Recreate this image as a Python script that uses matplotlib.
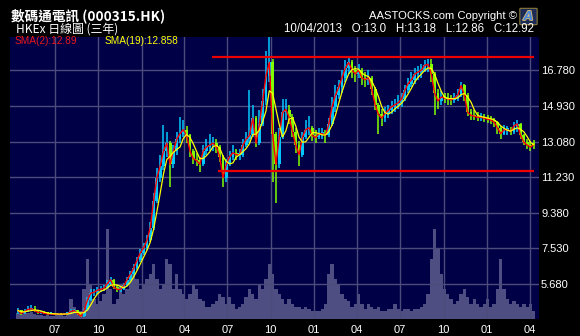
import numpy as np
import pandas as pd
import matplotlib
matplotlib.use("Agg")
import matplotlib.pyplot as plt
import matplotlib.dates as mdates
from matplotlib.patches import FancyBboxPatch
import matplotlib.patheffects as pe

# ---------------- data (weekly) ----------------
dates = pd.date_range("2010-04-14", "2013-04-10", freq="7D")

close = [4.30, 4.15, 4.25, 4.35, 4.40, 4.30, 4.20, 4.20, 4.15, 4.12, 4.12, 4.10, 4.12, 4.10, 4.12, 4.12,
         4.25, 4.30, 4.15, 4.00, 4.30, 4.85, 5.20, 5.25, 5.35, 5.40, 5.45, 5.70, 5.90, 5.50, 5.40, 5.40,
         5.60, 5.90, 6.20, 6.50, 6.90, 7.30, 7.55, 7.95, 8.60, 10.00, 11.20, 11.80, 12.60, 13.00, 11.90, 12.60,
         13.20, 13.50, 13.70, 13.40, 12.60, 12.20, 12.10, 11.90, 12.60, 12.80, 12.90, 13.00, 12.80, 12.30, 11.20, 11.90,
         12.30, 12.50, 12.40, 12.40, 12.90, 13.20, 13.40, 14.30, 13.00, 14.00, 15.20, 16.50, 17.20, 13.50, 11.90, 13.30,
         14.60, 14.75, 14.35, 13.60, 12.90, 12.40, 13.30, 13.70, 13.80, 13.40, 13.30, 13.50, 13.50, 13.40, 14.00, 14.90,
         15.50, 15.90, 16.40, 16.90, 17.20, 16.80, 16.60, 16.80, 16.40, 16.30, 16.40, 15.80, 15.00, 14.50, 14.30, 14.55,
         14.70, 14.90, 15.00, 15.10, 15.30, 15.75, 16.10, 16.30, 16.60, 16.70, 16.80, 17.05, 17.10, 16.60, 15.60, 15.20,
         15.40, 15.35, 15.30, 15.25, 15.35, 15.50, 16.00, 15.50, 14.60, 14.45, 14.40, 14.35, 14.35, 14.30, 14.25, 14.20,
         14.10, 13.80, 13.50, 13.70, 13.70, 13.60, 13.90, 14.00, 13.40, 13.05, 12.90, 12.80, 12.92]

open_ = [4.20, 4.30, 4.15, 4.25, 4.35, 4.40, 4.30, 4.20, 4.20, 4.15, 4.12, 4.12, 4.10, 4.12, 4.10, 4.12,
         4.12, 4.25, 4.30, 4.15, 4.00, 4.30, 4.85, 5.20, 5.25, 5.35, 5.40, 5.45, 5.70, 5.90, 5.50, 5.40,
         5.40, 5.60, 5.90, 6.20, 6.50, 6.90, 7.30, 7.55, 7.95, 8.60, 10.00, 11.20, 11.80, 12.60, 13.00, 11.90,
         12.60, 13.20, 13.50, 13.70, 13.40, 12.60, 12.20, 12.10, 11.90, 12.60, 12.80, 12.90, 13.00, 12.80, 12.30, 11.20,
         11.90, 12.30, 12.50, 12.40, 12.40, 12.90, 13.20, 13.40, 14.30, 13.00, 14.00, 15.20, 16.50, 17.20, 13.50, 11.90,
         13.30, 14.60, 14.75, 14.35, 13.60, 12.90, 12.40, 13.30, 13.70, 13.80, 13.40, 13.30, 13.50, 13.50, 13.40, 14.00,
         14.90, 15.50, 15.90, 16.40, 16.90, 17.20, 16.80, 16.60, 16.80, 16.40, 16.30, 16.40, 15.80, 15.00, 14.50, 14.30,
         14.55, 14.70, 14.90, 15.00, 15.10, 15.30, 15.75, 16.10, 16.30, 16.60, 16.70, 16.80, 17.05, 17.10, 16.60, 15.60,
         15.20, 15.40, 15.35, 15.30, 15.25, 15.35, 15.50, 16.00, 15.50, 14.60, 14.45, 14.40, 14.35, 14.35, 14.30, 14.25,
         14.20, 14.10, 13.80, 13.50, 13.70, 13.70, 13.60, 13.90, 14.00, 13.40, 13.05, 12.90, 13.00]

high = [4.45, 4.35, 4.40, 4.55, 4.60, 4.55, 4.35, 4.28, 4.25, 4.20, 4.18, 4.16, 4.17, 4.16, 4.18, 4.20,
        4.40, 4.38, 4.32, 4.18, 4.45, 5.00, 5.40, 5.40, 5.50, 5.55, 5.65, 5.90, 6.05, 5.95, 5.60, 5.55,
        5.75, 6.05, 6.35, 6.70, 7.10, 7.50, 7.80, 8.20, 8.90, 10.40, 11.70, 12.40, 13.95, 13.60, 13.10, 12.90,
        13.60, 14.35, 14.20, 13.90, 13.50, 12.70, 12.50, 12.30, 12.90, 13.20, 13.50, 13.30, 13.20, 12.90, 12.40, 12.20,
        12.60, 12.90, 12.70, 12.70, 13.20, 13.60, 15.75, 15.00, 14.40, 14.70, 15.80, 17.80, 18.50, 17.40, 13.60, 13.80,
        15.30, 15.30, 15.00, 14.50, 13.80, 13.10, 13.60, 14.20, 14.40, 13.90, 13.70, 13.80, 13.80, 13.70, 14.30, 15.40,
        16.00, 16.30, 16.80, 17.30, 17.50, 17.30, 17.00, 17.10, 16.90, 16.70, 16.80, 16.50, 15.90, 15.10, 14.80, 14.90,
        15.00, 15.20, 15.30, 15.50, 15.60, 16.00, 16.40, 16.70, 16.90, 17.00, 17.10, 17.30, 17.40, 17.40, 16.70, 15.80,
        15.70, 15.60, 15.60, 15.50, 15.60, 15.80, 16.20, 16.10, 15.60, 14.80, 14.70, 14.60, 14.55, 14.50, 14.45, 14.40,
        14.30, 14.15, 13.90, 13.95, 13.90, 13.85, 14.10, 14.20, 14.05, 13.50, 13.20, 13.10, 13.18]

low = [4.12, 4.05, 4.10, 4.20, 4.28, 4.22, 4.12, 4.12, 4.10, 4.08, 4.08, 4.06, 4.07, 4.06, 4.07, 4.08,
       4.10, 4.18, 4.08, 3.95, 3.98, 4.25, 4.80, 5.05, 5.15, 5.25, 5.30, 5.40, 5.65, 5.40, 5.28, 5.25,
       5.35, 5.55, 5.85, 6.10, 6.40, 6.80, 7.20, 7.45, 7.85, 8.50, 9.90, 11.00, 11.60, 12.30, 10.70, 11.70,
       12.40, 13.00, 13.30, 13.00, 12.30, 11.90, 11.80, 11.50, 11.80, 12.40, 12.60, 12.60, 12.50, 12.00, 10.70, 11.00,
       11.80, 12.10, 12.10, 12.10, 12.30, 12.80, 13.00, 13.30, 12.80, 12.90, 13.90, 15.00, 16.20, 11.00, 9.90, 11.70,
       13.20, 14.20, 14.00, 13.30, 12.50, 11.80, 12.30, 13.20, 13.40, 13.10, 13.00, 13.20, 13.20, 13.00, 13.30, 13.90,
       14.60, 15.30, 15.60, 16.20, 16.60, 16.40, 16.20, 16.40, 16.00, 15.90, 16.00, 15.50, 14.70, 13.50, 13.90, 14.10,
       14.30, 14.50, 14.60, 14.80, 14.90, 15.20, 15.60, 15.90, 16.10, 16.30, 16.40, 16.70, 16.70, 16.20, 14.45, 14.80,
       15.00, 15.10, 15.00, 15.00, 15.10, 15.20, 15.40, 15.20, 14.40, 14.20, 14.20, 14.15, 14.15, 14.10, 14.05, 14.00,
       13.85, 13.50, 13.20, 13.40, 13.45, 13.40, 13.50, 13.60, 13.20, 12.90, 12.70, 12.60, 12.70]

volume = [0.6, 0.5, 0.8, 0.6, 0.7, 0.5, 0.4, 0.4, 0.3, 0.4, 0.3, 0.3, 0.4, 0.4, 0.3, 0.4,
          2.0, 1.2, 0.6, 0.8, 3.0, 6.0, 3.5, 2.0, 1.5, 1.8, 2.5, 9.0, 3.0, 1.5, 2.0, 3.5, 2.5, 3.0, 4.0, 5.0, 4.0, 3.0, 3.5, 4.0,
          4.5, 5.5, 4.0, 3.0, 3.5, 6.0, 5.5, 3.0, 4.5, 3.0, 2.5, 2.0, 2.5, 3.5, 3.0, 2.0, 1.8, 1.2, 1.2, 1.5, 1.8, 2.5, 2.2, 1.5,
          2.2, 1.5, 1.0, 1.2, 1.5, 2.2, 3.0, 2.5, 2.0, 3.5, 3.0, 4.0, 5.5, 4.5, 3.0, 2.5, 2.0, 1.5, 2.0, 1.5, 1.2, 1.2, 1.0, 1.2,
          1.0, 0.8, 0.8, 0.8, 1.0, 1.5, 4.5, 5.5, 4.0, 3.5, 2.5, 2.0, 1.8, 1.2, 1.5, 2.5, 1.5, 1.0, 1.5, 1.2, 1.0, 1.2, 0.8, 0.8,
          1.0, 1.0, 1.5, 1.0, 0.8, 1.0, 1.0, 0.8, 1.0, 1.0, 1.2, 1.5, 2.5, 6.0, 9.0, 7.0, 4.5, 3.0, 2.5, 2.0, 1.5, 1.8, 2.5, 3.0,
          2.2, 1.5, 2.0, 1.5, 1.2, 1.5, 2.0, 1.2, 1.5, 3.0, 6.0, 3.0, 2.0, 1.5, 1.8, 1.5, 1.2, 1.5, 1.2, 1.5, 0.8]

price_ticks = [5.68, 7.53, 9.38, 11.23, 13.08, 14.93, 16.78]
date_ticks = ["2010-07-01", "2010-10-01", "2011-01-01", "2011-04-01", "2011-07-01", "2011-10-01",
              "2012-01-01", "2012-04-01", "2012-07-01", "2012-10-01", "2013-01-01", "2013-04-01"]
line_levels = [17.46, 11.56]
line_starts = ["2011-05-30", "2011-06-12"]
line_end = "2013-04-10"

title_cn = "數碼通電訊 (000315.HK)"
subtitle = "HKEx 日線圖 (三年)"
copyright_txt = "AASTOCKS.com Copyright ©"
quote_txt = "10/04/2013   O:13.0   H:13.18   L:12.86   C:12.92"
sma2_txt = "SMA(2):12.89"
sma19_txt = "SMA(19):12.858"

# ---------------- styling ----------------
BG = "#000000"
PANEL = "#000046"
GRID = "#4b4b7c"
VOLC = "#4e4e82"
UP = "#00C8FF"
DOWN = "#80FF00"
RED = "#FF0000"
YEL = "#FFFF00"

W, H = 580, 336
fig = plt.figure(figsize=(W / 100, H / 100), dpi=100, facecolor=BG)

L, R, T, B = 9.5, 539, 37, 319
pos = [L / W, 1 - B / H, (R - L) / W, (B - T) / H]

xmin = pd.Timestamp("2010-03-27")
xmax = pd.Timestamp("2013-04-21")

# volume axes (underneath)
axv = fig.add_axes(pos, facecolor=PANEL, zorder=1)
axv.bar(dates, volume, width=7.0, color=VOLC, linewidth=0)
axv.set_ylim(0, 28.2)
axv.set_xlim(xmin, xmax)
axv.set_xticks([]); axv.set_yticks([])
for s in axv.spines.values():
    s.set_visible(False)

# price axes (on top)
ax = fig.add_axes(pos, zorder=2)
ax.patch.set_alpha(0)
ax.set_xlim(xmin, xmax)
ax.set_ylim(3.857, 18.522)

o = np.array(open_); c = np.array(close); h = np.array(high); lo = np.array(low)
up = c >= o
cols = np.where(up, UP, DOWN)
ax.vlines(dates, lo, h, colors=cols, linewidth=1.1, zorder=3)
body_bot = np.minimum(o, c)
body_h = np.maximum(np.abs(c - o), 0.08)
ax.bar(dates, body_h, bottom=body_bot, width=6.0, color=cols, linewidth=0, zorder=3)

cs = pd.Series(close, index=dates)
ax.plot(dates, cs.values, color=RED, linewidth=1.0, zorder=4)
sma19 = cs.rolling(4, min_periods=1).mean()
ax.plot(dates, sma19.values, color=YEL, linewidth=0.9, zorder=5)

for lvl, st in zip(line_levels, line_starts):
    ax.plot([pd.Timestamp(st), pd.Timestamp(line_end)], [lvl, lvl], color="#EE0000",
            linewidth=1.6, zorder=6, solid_capstyle="butt")

ax.set_yticks(price_ticks)
ax.set_yticklabels([f"{v:.3f}" for v in price_ticks])
ax.yaxis.tick_right()
ax.set_xticks([pd.Timestamp(d) for d in date_ticks])
ax.xaxis.set_major_formatter(mdates.DateFormatter("%m"))
ax.tick_params(axis="both", length=0, colors="white", labelsize=8)
ax.tick_params(axis="y", pad=1.5)
ax.tick_params(axis="x", pad=4)
for lab in ax.get_xticklabels() + ax.get_yticklabels():
    lab.set_fontfamily("Liberation Sans")
ax.grid(True, color=GRID, linewidth=1.0, zorder=0)
ax.set_axisbelow(True)
for s in ax.spines.values():
    s.set_visible(False)

# ---------------- texts ----------------
def ftext(x, y, s, **kw):
    fig.text(x / W, 1 - y / H, s, va="center", **kw)

ftext(11, 15.5, title_cn, color="white", fontsize=9.8, fontweight="bold",
      family=["Noto Sans CJK TC", "DejaVu Sans"])
ftext(16, 29, subtitle, color="white", fontsize=8.6,
      family=["Noto Sans CJK TC", "DejaVu Sans"])
ftext(517, 16, copyright_txt, color="white", fontsize=8.1, ha="right", family="Liberation Sans")
ftext(534, 28.5, quote_txt, color="white", fontsize=8.3, ha="right", family="Liberation Sans")
ftext(15, 41.5, sma2_txt, color="#E81818", fontsize=7.3, family="Liberation Sans")
ftext(105, 41.5, sma19_txt, color=YEL, fontsize=7.3, family="Liberation Sans")

# small logo
logo = FancyBboxPatch((521 / W, 1 - 24 / H), 15 / W, 15 / H, boxstyle="round,pad=0.002",
                      transform=fig.transFigure, facecolor="#1d2b55", edgecolor="#8a7a3a",
                      linewidth=0.8, figure=fig)
fig.patches.append(logo)
t = fig.text(528.5 / W, 1 - 16.5 / H, "A", color="#4f86d8", fontsize=9, fontweight="bold",
             ha="center", va="center", style="italic", family="DejaVu Sans")
t.set_path_effects([pe.withStroke(linewidth=1.2, foreground="#d8c070")])

fig.savefig("out.png", dpi=100, facecolor=BG)
